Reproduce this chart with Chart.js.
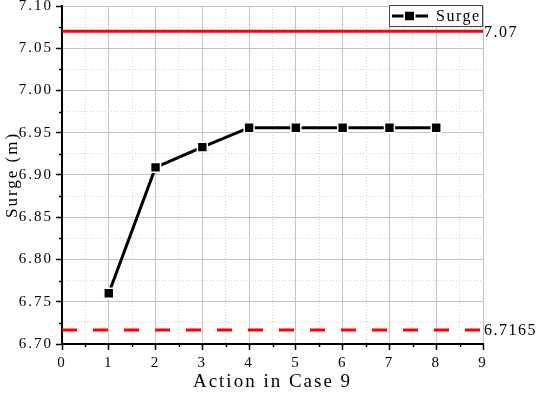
<!DOCTYPE html>
<html>
<head>
<meta charset="utf-8">
<script src="https://cdn.jsdelivr.net/npm/chart.js"></script>
<style>
  html, body { margin: 0; padding: 0; background: #fff; }
  #wrap { width: 536px; height: 393px; }
</style>
</head>
<body>
<div id="wrap"><canvas id="surge-chart" width="536" height="393"></canvas></div>
<script>
// values
const actions = [1, 2, 3, 4, 5, 6, 7, 8];
const surge = [6.760, 6.909, 6.933, 6.956, 6.956, 6.956, 6.956, 6.956];
const upperLimit = 7.07;
const lowerLimit = 6.7165;
const limitLabels = ['7.07', '6.7165'];
const xRange = [0, 9];
const yRange = [6.70, 7.10];

const FONT = "'Liberation Serif', 'DejaVu Serif', serif";

const surgePoints = actions.map((a, i) => ({ x: a, y: surge[i] }));
const upperLine = xRange.map(x => ({ x: x, y: upperLimit }));
const lowerLine = xRange.map(x => ({ x: x, y: lowerLimit }));

const majorGrid = '#c4c4c4';
const minorGrid = '#d4d4d4';

// wider letter spacing, closer to the original CJK serif face
const spacing = {
  id: 'spacing',
  beforeDraw(chart) { chart.ctx.letterSpacing = '2px'; },
  afterDraw(chart) { chart.ctx.letterSpacing = '0px'; }
};

// minor tick marks + limit labels + boxed legend
const extras = {
  id: 'extras',
  afterDraw(chart) {
    const ctx = chart.ctx;
    const area = chart.chartArea;
    const xs = chart.scales.x, ys = chart.scales.y;
    ctx.save();

    ctx.strokeStyle = '#000';
    ctx.lineWidth = 1.5;
    xs.ticks.forEach((t, i) => {
      if (i % 2 === 1) {
        const px = Math.round(xs.getPixelForValue(t.value)) + 0.5;
        ctx.beginPath();
        ctx.moveTo(px, area.bottom);
        ctx.lineTo(px, area.bottom + 3);
        ctx.stroke();
      }
    });
    ys.ticks.forEach((t, i) => {
      if (i % 2 === 1) {
        const py = Math.round(ys.getPixelForValue(t.value)) + 0.5;
        ctx.beginPath();
        ctx.moveTo(area.left, py);
        ctx.lineTo(area.left - 3, py);
        ctx.stroke();
      }
    });

    ctx.letterSpacing = '1.5px';
    ctx.fillStyle = '#000';
    ctx.font = '16px ' + FONT;
    ctx.textAlign = 'left';
    ctx.textBaseline = 'middle';
    ctx.fillText(limitLabels[0], area.right + 1, ys.getPixelForValue(upperLimit) + 1);
    ctx.fillText(limitLabels[1], area.right + 1, ys.getPixelForValue(lowerLimit) + 1);

    // legend box
    const bx = area.right - 94, by = area.top - 1, bw = 94, bh = 22;
    ctx.fillStyle = '#fff';
    ctx.fillRect(bx, by, bw, bh);
    ctx.strokeStyle = '#444';
    ctx.lineWidth = 1;
    ctx.strokeRect(bx + 0.5, by + 0.5, bw - 1, bh - 1);
    const ly = by + bh / 2;
    ctx.strokeStyle = '#000';
    ctx.lineWidth = 3;
    ctx.beginPath();
    ctx.moveTo(bx + 3, ly);
    ctx.lineTo(bx + 39, ly);
    ctx.stroke();
    ctx.fillStyle = '#000';
    ctx.fillRect(bx + 16, ly - 4.5, 9, 9);
    ctx.strokeStyle = '#fff';
    ctx.lineWidth = 1.5;
    ctx.strokeRect(bx + 15.25, ly - 5.25, 10.5, 10.5);
    ctx.fillStyle = '#000';
    ctx.font = '16px ' + FONT;
    ctx.fillText('Surge', bx + 47, ly + 1);

    ctx.restore();
  }
};

new Chart(document.getElementById('surge-chart').getContext('2d'), {
  type: 'line',
  data: {
    datasets: [
      {
        label: 'Surge',
        data: surgePoints,
        borderColor: '#000',
        borderWidth: 3,
        backgroundColor: '#000',
        pointStyle: 'rect',
        pointRadius: 7,
        pointBorderColor: '#fff',
        pointBorderWidth: 1.5,
        pointBackgroundColor: '#000',
        tension: 0,
        order: 1
      },
      {
        label: 'upper',
        data: upperLine,
        borderColor: '#ff0000',
        borderWidth: 3,
        pointRadius: 0,
        order: 2
      },
      {
        label: 'lower',
        data: lowerLine,
        borderColor: '#ff0000',
        borderWidth: 3,
        borderDash: [15, 16],
        pointRadius: 0,
        order: 2
      }
    ]
  },
  options: {
    responsive: false,
    animation: false,
    layout: { autoPadding: false, padding: { top: 6, right: 53, left: 0, bottom: 0 } },
    plugins: {
      legend: { display: false },
      tooltip: { enabled: false }
    },
    scales: {
      x: {
        type: 'linear',
        min: xRange[0],
        max: xRange[1],
        afterFit: (s) => { s.height = 49; s.paddingLeft = 0; s.paddingRight = 0; },
        ticks: {
          stepSize: 0.5,
          autoSkip: false,
          maxRotation: 0,
          padding: 4,
          color: '#000',
          font: { family: FONT, size: 15 },
          callback: (v, i) => (i % 2 === 0 ? String(v) : '')
        },
        grid: {
          color: (c) => (c.index % 2 === 0 ? majorGrid : minorGrid),
          lineWidth: 1,
          tickLength: 6,
          tickColor: (c) => (c.index % 2 === 0 ? '#000' : 'rgba(0,0,0,0)'),
          tickWidth: 1.5
        },
        border: {
          display: true, color: '#000', width: 2,
          dash: (c) => (c.index % 2 === 1 ? [1, 2] : [])
        },
        title: {
          display: true,
          text: 'Action in Case 9',
          color: '#000',
          font: { family: FONT, size: 19 },
          padding: { top: 0, bottom: 0 }
        }
      },
      y: {
        min: yRange[0],
        max: yRange[1],
        afterFit: (s) => { s.width = 62; s.paddingTop = 0; s.paddingBottom = 0; },
        ticks: {
          stepSize: 0.025,
          autoSkip: false,
          padding: 3,
          color: '#000',
          font: { family: FONT, size: 15 },
          callback: (v, i) => (i % 2 === 0 ? v.toFixed(2) : '')
        },
        grid: {
          color: (c) => (c.index % 2 === 0 ? majorGrid : minorGrid),
          lineWidth: 1,
          tickLength: 6,
          tickColor: (c) => (c.index % 2 === 0 ? '#000' : 'rgba(0,0,0,0)'),
          tickWidth: 1.5
        },
        border: {
          display: true, color: '#000', width: 2,
          dash: (c) => (c.index % 2 === 1 ? [1, 2] : [])
        },
        title: {
          display: true,
          text: 'Surge (m)',
          color: '#000',
          font: { family: FONT, size: 17 },
          padding: { top: 2, bottom: 0 }
        }
      }
    }
  },
  plugins: [spacing, extras]
});
</script>
</body>
</html>
